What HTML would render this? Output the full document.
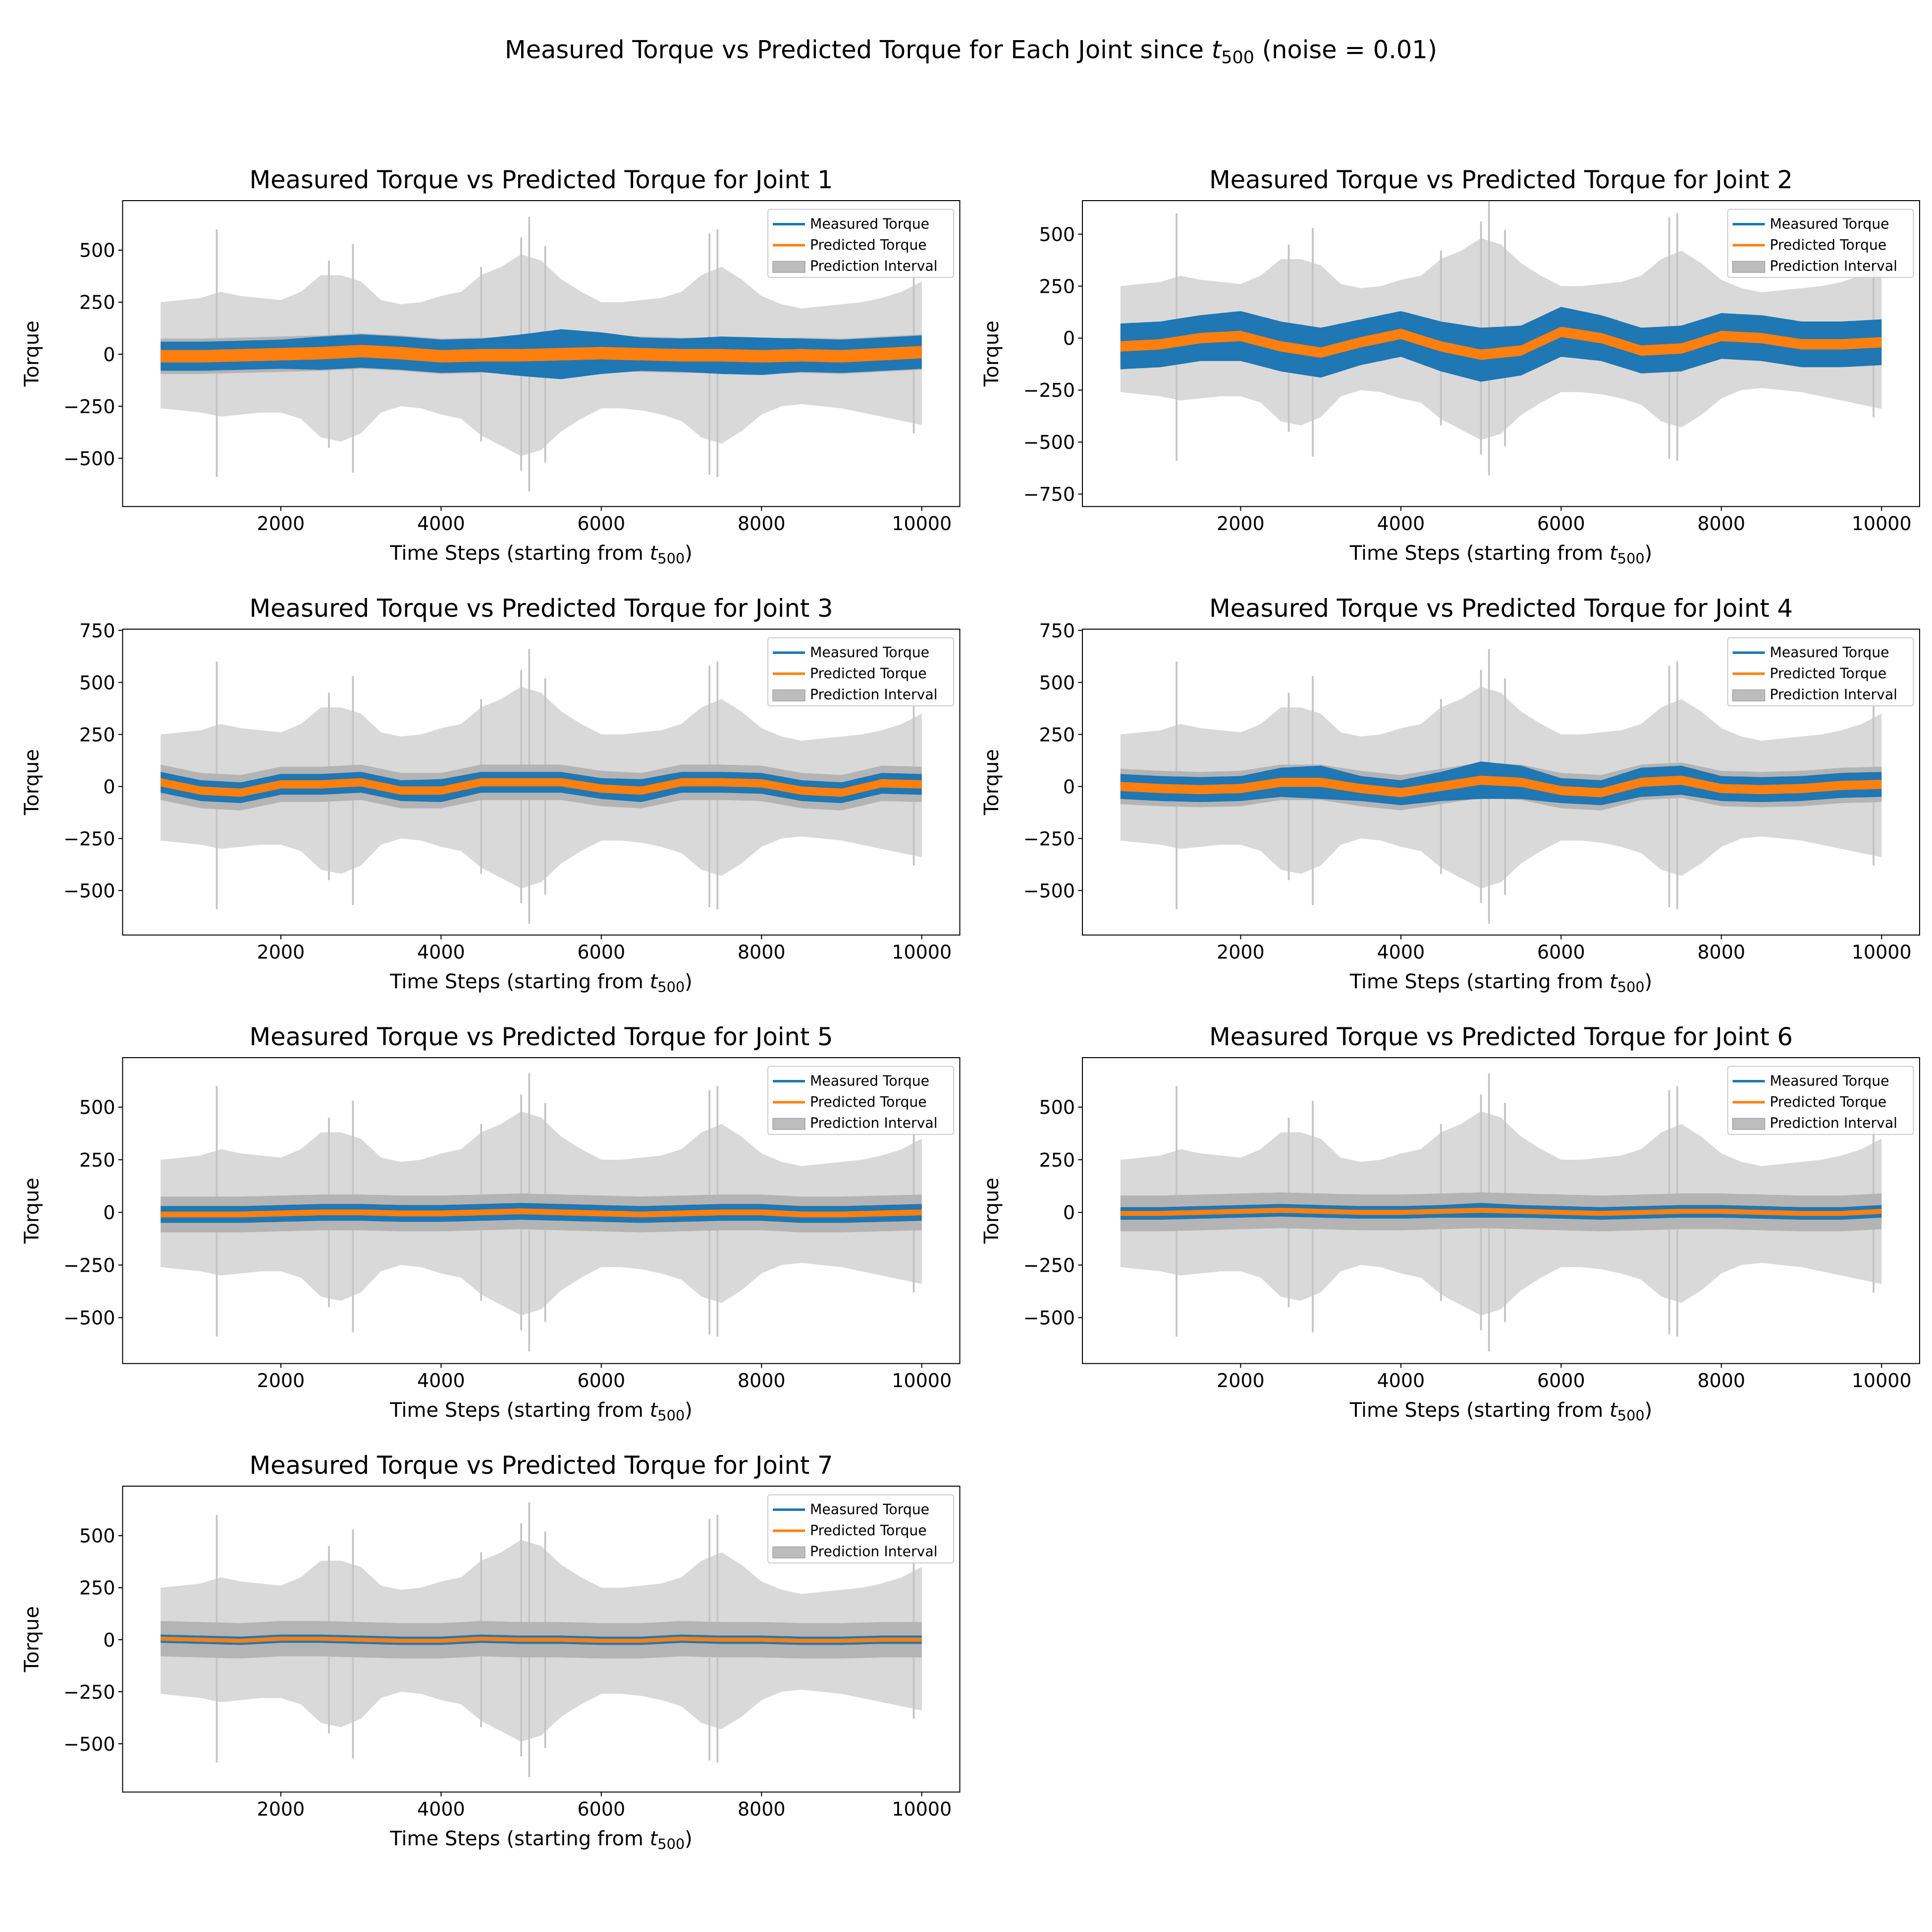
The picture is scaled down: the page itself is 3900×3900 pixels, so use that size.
<!DOCTYPE html>
<html><head><meta charset="utf-8">
<style>
html,body{margin:0;padding:0;background:#fff}
svg{display:block}
text{font-family:"DejaVu Sans","Liberation Sans",sans-serif;fill:#000}
</style></head>
<body>
<svg id="fig" xmlns="http://www.w3.org/2000/svg" width="3900" height="3900" viewBox="0 0 1560 1560">
<rect width="1560" height="1560" fill="#fff"/>
<text x="784" y="47" font-size="19.8" text-anchor="middle">Measured Torque vs Predicted Torque for Each Joint since <tspan font-style="italic">t</tspan><tspan font-size="14" dy="4">500</tspan><tspan dy="-4"> (noise = 0.01)</tspan></text>
</svg>
<script>
// Shared prediction-interval envelope sampled every 250 steps from t=500 to t=10000
const envTimes = [];
for (let t = 500; t <= 10000; t += 250) envTimes.push(t);
const envUpper = [250,260,270,300,280,270,260,300,380,380,350,260,240,250,280,300,380,420,480,450,360,300,250,250,260,270,300,380,420,360,280,240,220,230,240,250,270,300,350];
const envLower = [-260,-270,-280,-300,-290,-280,-280,-310,-400,-420,-380,-280,-250,-260,-290,-310,-390,-440,-490,-460,-370,-310,-260,-260,-270,-290,-320,-400,-430,-370,-290,-250,-240,-250,-260,-280,-300,-320,-340];
// Individual spikes in the interval
const spikeTimes = [1200,2600,2900,4500,5000,5100,5300,7350,7450,9900];
const spikeUpper = [600,450,530,420,560,660,520,580,600,400];
const spikeLower = [-590,-450,-570,-420,-560,-660,-520,-580,-590,-380];
const innerHalf = 85;

// Per-joint series sampled every 500 steps (t=500..10000)
const jointTimes = [];
for (let t = 500; t <= 10000; t += 500) jointTimes.push(t);
const pred1 = [-10,-10,-5,0,5,15,5,-10,-5,-5,0,5,0,-5,-5,-10,-5,-10,0,10];
const pred2 = [-40,-30,0,10,-40,-70,-20,20,-40,-80,-60,30,0,-60,-50,10,0,-30,-30,-20];
const pred3 = [20,-20,-30,10,10,20,-20,-20,20,20,20,-10,-20,20,20,15,-20,-30,15,10];
const pred4 = [0,-10,-15,-10,20,20,-10,-30,0,30,20,-20,-30,20,30,-10,-15,-10,5,10];
const pred5 = [-10,-10,-10,-5,0,0,-5,-5,0,5,0,-5,-10,-5,0,0,-10,-10,-5,0];
const pred6 = [-5,-5,0,5,10,5,0,0,5,10,5,0,-5,0,5,5,0,-5,-5,5];
const pred7 = [5,0,-5,5,5,0,-5,-5,5,0,0,-5,-5,5,0,0,-5,-5,0,0];
const meas1 = [70,70,70,70,80,80,80,80,80,100,120,100,80,80,90,90,80,80,80,80];
const meas2 = [110,110,110,120,120,120,110,110,120,130,120,120,110,110,110,110,110,110,110,110];
const meas3 = [50,50,50,50,50,50,50,55,50,50,50,50,55,50,50,50,50,50,50,50];
const meas4 = [60,60,60,60,70,80,60,60,70,90,80,60,60,70,70,60,60,60,60,60];
const meas5 = [40,40,40,40,40,40,40,40,40,40,40,40,40,40,40,40,40,40,40,40];
const meas6 = [30,30,30,30,30,30,30,30,30,35,30,30,30,30,30,30,30,30,30,30];
const meas7 = [20,20,20,20,20,20,20,20,20,20,20,20,20,20,20,20,20,20,20,20];
const predHalf = [30,25,20,22,14,12,10];
const xTicks = [2000,4000,6000,8000,10000];

const preds=[pred1,pred2,pred3,pred4,pred5,pred6,pred7];
const meass=[meas1,meas2,meas3,meas4,meas5,meas6,meas7];
const NS="http://www.w3.org/2000/svg";
const svg=document.getElementById('fig');
function mk(tag,attrs,parent){const e=document.createElementNS(NS,tag);for(const k in attrs)e.setAttribute(k,attrs[k]);(parent||svg).appendChild(e);return e;}

const layout=[
 {x0:99,y0:162,ylim:[-732,738],yt:[-500,-250,0,250,500]},
 {x0:874,y0:162,ylim:[-810,661],yt:[-750,-500,-250,0,250,500]},
 {x0:99,y0:508,ylim:[-714,756],yt:[-500,-250,0,250,500,750]},
 {x0:874,y0:508,ylim:[-714,756],yt:[-500,-250,0,250,500,750]},
 {x0:99,y0:854,ylim:[-718,735],yt:[-500,-250,0,250,500]},
 {x0:874,y0:854,ylim:[-718,735],yt:[-500,-250,0,250,500]},
 {x0:99,y0:1200,ylim:[-732,738],yt:[-500,-250,0,250,500]}
];
const W=676,H=247;

function interp(ts,vs,t){
  if(t<=ts[0])return vs[0];
  for(let i=1;i<ts.length;i++){if(t<=ts[i]){const f=(t-ts[i-1])/(ts[i]-ts[i-1]);return vs[i-1]+f*(vs[i]-vs[i-1]);}}
  return vs[vs.length-1];
}

layout.forEach((L,j)=>{
  const g=mk('g',{});
  
  
  const X=t=>L.x0+(t-25)/10450*W;
  const Y=v=>L.y0+(L.ylim[1]-v)/(L.ylim[1]-L.ylim[0])*H;
  const clipId='clip'+j;
  const cp=mk('clipPath',{id:clipId},g);mk('rect',{x:L.x0,y:L.y0,width:W,height:H},cp);
  const plot=mk('g',{'clip-path':'url(#'+clipId+')'},g);
  let up=[],lo=[];
  for(let t=500;t<=10000;t+=50){up.push(X(t).toFixed(1)+','+Y(interp(envTimes,envUpper,t)).toFixed(1));lo.push(X(t).toFixed(1)+','+Y(interp(envTimes,envLower,t)).toFixed(1));}
  const pi=mk('polygon',{points:up.concat(lo.reverse()).join(' '),fill:'#d9d9d9'},plot);
  
  
  spikeTimes.forEach((t,i)=>{
    const s=mk('line',{x1:X(t),x2:X(t),y1:Y(spikeUpper[i]),y2:Y(spikeLower[i]),stroke:'#c4c4c4','stroke-width':1.5},plot);
    
    
  });
  const pr=preds[j],ms=meass[j],ph=predHalf[j];
  let iu=[],il=[];
  for(let t=500;t<=10000;t+=50){const c=interp(jointTimes,pr,t);iu.push(X(t).toFixed(1)+','+Y(c+innerHalf).toFixed(1));il.push(X(t).toFixed(1)+','+Y(c-innerHalf).toFixed(1));}
  const ib=mk('polygon',{points:iu.concat(il.reverse()).join(' '),fill:'#b4b4b4'},plot);
  
  
  let mu=[],ml=[];
  for(let t=500;t<=10000;t+=50){const c=interp(jointTimes,pr,t),h=interp(jointTimes,ms,t);mu.push(X(t).toFixed(1)+','+Y(c+h).toFixed(1));ml.push(X(t).toFixed(1)+','+Y(c-h).toFixed(1));}
  const mb=mk('polygon',{points:mu.concat(ml.reverse()).join(' '),fill:'#1f77b4'},plot);
  
  
  let pu=[],pl=[];
  for(let t=500;t<=10000;t+=50){const c=interp(jointTimes,pr,t);pu.push(X(t).toFixed(1)+','+Y(c+ph).toFixed(1));pl.push(X(t).toFixed(1)+','+Y(c-ph).toFixed(1));}
  const pb=mk('polygon',{points:pu.concat(pl.reverse()).join(' '),fill:'#ff7f0e'},plot);
  
  
  const fr=mk('rect',{x:L.x0,y:L.y0,width:W,height:H,fill:'none',stroke:'#000','stroke-width':0.8},g);
  
  
  xTicks.forEach(t=>{
    mk('line',{x1:X(t),x2:X(t),y1:L.y0+H,y2:L.y0+H+3.5,stroke:'#000','stroke-width':0.8},g);
    const tx=mk('text',{x:X(t),y:L.y0+H+19,'font-size':15.2,'text-anchor':'middle'},g);tx.textContent=t;
    
    
  });
  L.yt.forEach(v=>{
    mk('line',{x1:L.x0-3.5,x2:L.x0,y1:Y(v),y2:Y(v),stroke:'#000','stroke-width':0.8},g);
    const tx=mk('text',{x:L.x0-6,y:Y(v)+5.5,'font-size':15.2,'text-anchor':'end'},g);tx.textContent=(v<0?'\u2212'+(-v):v);
    
    
  });
  const ti=mk('text',{x:L.x0+W/2,y:L.y0-10,'font-size':19.8,'text-anchor':'middle'},g);ti.textContent='Measured Torque vs Predicted Torque for Joint '+(j+1);
  
  
  const xl=mk('text',{x:L.x0+W/2,y:L.y0+H+43,'font-size':16,'text-anchor':'middle'},g);
  xl.innerHTML='Time Steps (starting from <tspan font-style="italic">t</tspan><tspan font-size="11.5" dy="3">500</tspan><tspan dy="-3">)</tspan>';
  
  
  const yl=mk('text',{x:0,y:0,'font-size':16,'text-anchor':'middle',transform:'translate('+(L.x0-68)+','+(L.y0+H/2)+') rotate(-90)'},g);yl.textContent='Torque';
  
  
  const lg=mk('g',{},g);
  
  
  const lx=L.x0+W-155,ly=L.y0+7;
  mk('rect',{x:lx,y:ly,width:150,height:55,rx:2,fill:'#fff','fill-opacity':0.8,stroke:'#ccc','stroke-width':0.8},lg);
  const labels=['Measured Torque','Predicted Torque','Prediction Interval'];
  labels.forEach((s,i)=>{
    const yy=ly+12+i*17;
    if(i<2) mk('line',{x1:lx+4,x2:lx+30,y1:yy,y2:yy,stroke:i==0?'#1f77b4':'#ff7f0e','stroke-width':2},lg);
    else mk('rect',{x:lx+4,y:yy-4,width:26,height:9,fill:'#bdbdbd',stroke:'#a0a0a0','stroke-width':0.6},lg);
    const t=mk('text',{x:lx+34,y:yy+3.5,'font-size':11.3},lg);t.textContent=s;
    
    
  });
});
</script>
</body></html>
